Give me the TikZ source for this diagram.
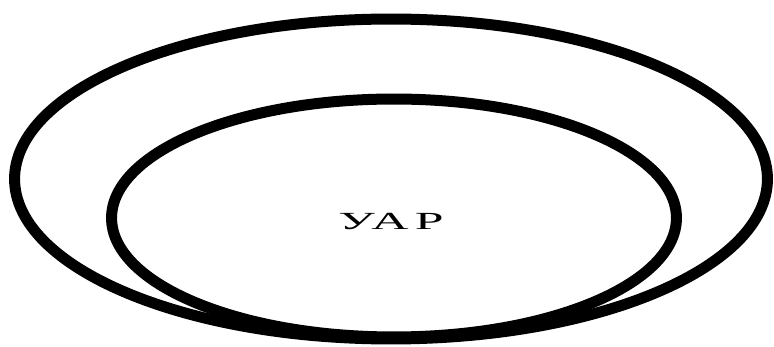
\documentclass[tikz,border=0pt]{standalone}
\usepackage{fontspec}
\setmainfont{Liberation Serif}
\usepackage{tikz}
\usetikzlibrary{shapes.geometric,positioning}

\begin{document}
\begin{tikzpicture}[
    x=0.02cm, y=-0.02cm,
    krug/.style={ellipse, draw=black, line width=0.22cm, inner sep=0pt,
      fill=none},
    metka/.style={font=\fontsize{14}{16}\selectfont\addfontfeature{LetterSpace=12},
      xscale=2.1, inner sep=0pt}
  ]
    \useasboundingbox (0,0) rectangle (774,347);
    \clip (0,0) rectangle (774,347);
    \node[krug, minimum width=15.06cm, minimum height=6.4cm] (vneshniy) at (391,179) {};
    \node[krug, minimum width=11.3cm, minimum height=4.76cm] (vnutrenniy) at (394,218) {};
    \node[metka] (uar) at (391,222) {УАР};
  \end{tikzpicture}
\end{document}
